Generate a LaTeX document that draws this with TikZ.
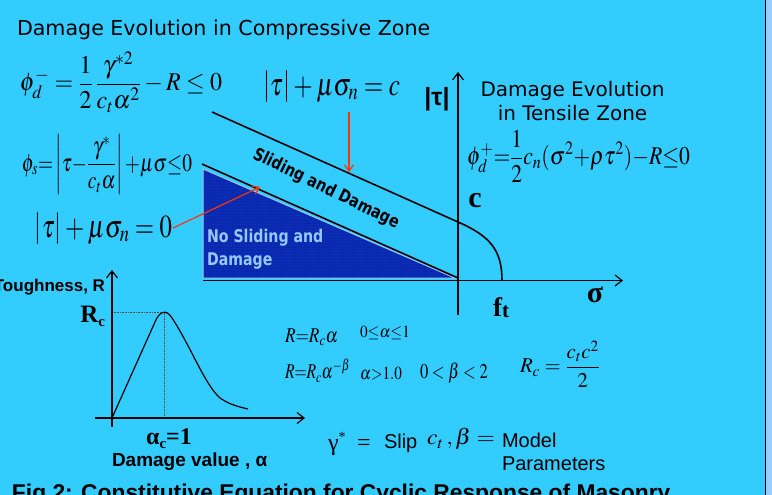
\documentclass[tikz,border=0pt]{standalone}
\usepackage{mathptmx}
\usepackage{graphicx}
\usepackage{fontspec}
\usetikzlibrary{arrows.meta,patterns}
\newfontfamily\verd{DejaVu Sans}
\newfontfamily\arial{Liberation Sans}
\newfontfamily\dvcn[FakeStretch=0.9]{DejaVu Sans Condensed}
\newfontfamily\tnr{Liberation Serif}
\definecolor{bgc}{RGB}{51,204,255}
\definecolor{stripc}{RGB}{153,204,255}
\definecolor{tric}{RGB}{8,40,176}
\definecolor{tridot}{RGB}{40,80,200}
\definecolor{triedge}{RGB}{150,200,255}
\definecolor{redc}{RGB}{255,51,0}
\newcommand{\fs}[1]{\fontsize{#1}{#1}\selectfont}
\newcommand{\eqw}[3]{\resizebox{#1pt}{\height}{\fs{#2}$\displaystyle #3$}}
\tikzset{
  lbl/.style={inner sep=0pt,outer sep=0pt},
  mainline/.style={line width=1.6pt},
  axisline/.style={line width=1.2pt,-{Straight Barb[length=7pt,width=11pt,line width=1.2pt]}},
  redarrow/.style={redc,line width=1.2pt,-{Straight Barb[length=6pt,width=9pt,line width=1.2pt]}},
  guide/.style={black!70,line width=0.6pt,densely dotted},
}
\begin{document}
\begin{tikzpicture}[x=1pt,y=-1pt]
\useasboundingbox (0,0) rectangle (772,495);
\fill[bgc] (0,0) rectangle (772,495);
\fill[stripc] (765,0) rectangle (772,495);
\draw[line width=1pt] (765,0) -- (765,495);

% ---- upper graph ----
\coordinate (o) at (458,280.5);
\coordinate (vtop) at (458,72);
\coordinate (vbot) at (458,315);
\coordinate (hleft) at (203,280.5);
\coordinate (hright) at (623,280.5);
\coordinate (t1) at (203,169);
\coordinate (t2) at (455,278);
\coordinate (t3) at (203,278);
\fill[tric] (t1) -- (t2) -- (t3) -- cycle;
\fill[pattern=dots,pattern color=tridot] (t1) -- (t2) -- (t3) -- cycle;
\draw[triedge,line width=1pt] (t1) -- (t2) -- (t3) -- cycle;
\coordinate (l0a) at (202,164);
\coordinate (l0b) at (458,278);
\draw[mainline] (l0a) -- (l0b);
\coordinate (lca) at (212,112);
\coordinate (lcb) at (458,222);
\coordinate (ft) at (502,280.5);
\draw[mainline] (lca) -- (lcb) .. controls (490,236) and (502,250) .. (ft);
\draw[axisline] (vbot) -- (vtop);
\draw[axisline] (hleft) -- (hright);

% texts
\node[lbl,anchor=base west] (title1) at (17,36) {\verd\fs{20.6}Damage Evolution in Compressive Zone};
\node[lbl] (eq1) at (121,82) {\eqw{202}{25.5}{\phi_d^{-} = \frac{1}{2}\,\frac{\gamma^{*2}}{c_t\alpha^2} - R \le 0}};
\node[lbl] (eq2) at (107,165) {\eqw{170}{25}{\phi_s {=}\left|\tau {-} \frac{\gamma^{*}}{c_t\alpha}\right| {+}\mu\sigma{\le} 0}};
\node[lbl] (eq3) at (103.5,229) {\eqw{137}{32}{\left|\tau\right| + \mu\sigma_n = 0}};
\node[lbl] (eq4) at (331.5,87) {\eqw{137}{32}{\left|\tau\right| + \mu\sigma_n = c}};
\node[lbl,anchor=center] (tau) at (437,99) {\arial\bfseries\fs{25}|τ|};
\node[lbl,anchor=base] (tz1) at (572.5,97) {\verd\fs{20}Damage Evolution};
\node[lbl,anchor=base] (tz2) at (572.5,121) {\verd\fs{20}in Tensile Zone};
\node[lbl] (eq5) at (578.5,156.5) {\eqw{223}{25.5}{\phi_d^{+} {=}\frac{1}{2} c_n(\sigma^2 {+}\rho\tau^2){-}R{\le}0}};
\node[lbl] (clbl) at (475,200.5) {\tnr\bfseries\fs{30}c};
\node[lbl] (sig) at (595,295) {\tnr\bfseries\fs{30}σ};
\node[lbl] (ftl) at (501,308) {\tnr\bfseries\fs{27}f\raisebox{-1pt}{\fs{21}t}};
\node[lbl,rotate=-26] (slide) at (326,189) {\dvcn\bfseries\fs{17.5}Sliding and Damage};
\node[lbl,anchor=base west,text=triedge] (nos1) at (207,242) {\dvcn\bfseries\fs{17.5}No Sliding and};
\node[lbl,anchor=base west,text=triedge] (nos2) at (207,265.5) {\dvcn\bfseries\fs{17.5}Damage};

% red arrows
\coordinate (r1a) at (349,112);
\coordinate (r1b) at (349,172);
\draw[redarrow] (r1a) -- (r1b);
\coordinate (r2a) at (173,228);
\coordinate (r2b) at (260,187);
\draw[redarrow] (r2a) -- (r2b);

% ---- lower-left graph ----
\coordinate (go) at (112,418);
\coordinate (gvtop) at (112,270);
\coordinate (gvbot) at (112,427);
\coordinate (ghl) at (95,418);
\coordinate (ghr) at (305,418);
\coordinate (peak) at (164,312);
\draw[guide] (112,312) -- (peak) -- (164,418);
\draw[axisline,line width=1.1pt] (gvbot) -- (gvtop);
\draw[axisline,line width=1.1pt] (ghl) -- (ghr);
\draw[line width=1.2pt] (go) -- (155,322) .. controls (159,312) and (166,308) .. (172,318)
  .. controls (190,345) and (205,385) .. (220,398) .. controls (230,405) and (240,407) .. (248,409);
\node[lbl,anchor=base east] (tough) at (105,291) {\arial\bfseries\fs{17}Toughness, R};
\node[lbl,anchor=base east] (rc) at (105,322) {\tnr\bfseries\fs{25}R\raisebox{-4pt}{\fs{15}c}};
\node[lbl,anchor=base] (alc) at (169,444) {\tnr\bfseries\fs{24}α\raisebox{-4pt}{\fs{15}c}=1};
\node[lbl,anchor=base west] (dval) at (112,466) {\arial\bfseries\fs{19}Damage value , α};

% ---- formulas ----
\node[lbl] (f1) at (311.5,337) {\eqw{53}{21}{R{=}R_c\alpha}};
\node[lbl] (f2) at (385,332.5) {\eqw{50}{17}{0{\le}\alpha{\le}1}};
\node[lbl] (f3) at (317.5,370.5) {\eqw{65}{21}{R{=}R_c\alpha^{-\beta}}};
\node[lbl] (f4) at (381,373.5) {\eqw{42}{18.5}{\alpha{>}1.0}};
\node[lbl] (f5) at (454,373) {\eqw{68}{21}{0<\beta<2}};
\node[lbl] (f6) at (560,364) {\eqw{80}{21}{R_c = \frac{c_t c^2}{2}}};
\node[lbl,anchor=base west] (gam) at (328,450) {\tnr\fs{24}γ\raisebox{9pt}{\fs{14}*}};
\node[lbl,anchor=base west] (geq) at (357,450) {\tnr\fs{24}=};
\node[lbl,anchor=base west] (slip) at (384,448) {\arial\fs{20}Slip};
\node[lbl] (ctb) at (461,439) {\eqw{68}{22}{c_t\,,\beta =}};
\node[lbl,anchor=base west] (model) at (502,447) {\arial\fs{20}Model};
\node[lbl,anchor=base west] (param) at (502,470) {\arial\fs{20}Parameters};

\node[lbl,anchor=base west] (cap) at (12,500) {\arial\bfseries\fs{22.8}Fig 2: Constitutive Equation for Cyclic Response of Masonry};
\end{tikzpicture}
\end{document}
